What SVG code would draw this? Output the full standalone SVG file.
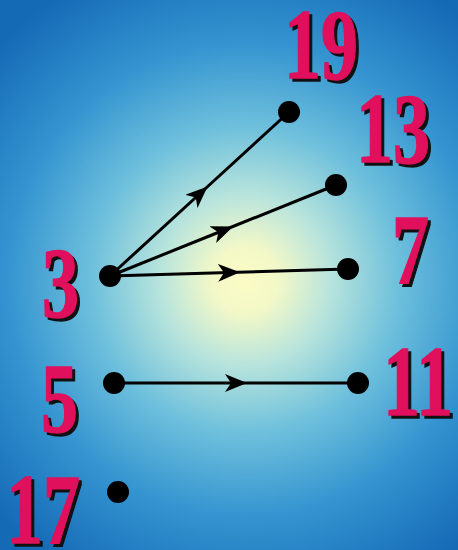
<svg xmlns="http://www.w3.org/2000/svg" width="458" height="550" viewBox="0 0 458 550">
<defs>
<radialGradient id="bg" gradientUnits="userSpaceOnUse" cx="245" cy="280" r="340">
<stop offset="0" stop-color="#fcfcc4"/>
<stop offset="0.1" stop-color="#f2f8c8"/>
<stop offset="0.25" stop-color="#b8e4dc"/>
<stop offset="0.45" stop-color="#6ec0dc"/>
<stop offset="0.7" stop-color="#3494d0"/>
<stop offset="1" stop-color="#156ab6"/>
</radialGradient>
<marker id="ah" viewBox="0 0 22 18" refX="11" refY="9" markerWidth="22" markerHeight="18" markerUnits="userSpaceOnUse" orient="auto">
<path d="M0,0 L22,9 L0,18 L6,9 Z" fill="#000"/>
</marker>
<style>
.lb{font-family:"Liberation Serif","Times New Roman",serif;font-weight:bold;font-size:100px;fill:#e0105c;stroke:#e0105c;stroke-width:1.5}
.sh{font-family:"Liberation Serif","Times New Roman",serif;font-weight:bold;font-size:100px;fill:#111;stroke:#111;stroke-width:1.5}
.dot{fill:#000}
.e{stroke:#000;stroke-width:3;fill:none;marker-mid:url(#ah)}
</style>
</defs>
<rect width="458" height="550" fill="url(#bg)"/>
<g id="connectors">
<path class="e" d="M110,276 L199.5,194 L289,112"/>
<path class="e" d="M110,276 L223,230.5 L336,185"/>
<path class="e" d="M110,276 L229,272.5 L348,269"/>
<path class="e" d="M114,383 L236,383 L358,383"/>
</g>
<g id="n19">
<text class="sh" transform="translate(287,81) scale(0.74,1)">19</text>
<text class="lb" transform="translate(284,78) scale(0.74,1)">19</text>
<circle class="dot" cx="289" cy="112" r="11"/>
</g>
<g id="n13">
<text class="sh" transform="translate(359,165) scale(0.74,1)">13</text>
<text class="lb" transform="translate(356,162) scale(0.74,1)">13</text>
<circle class="dot" cx="336" cy="185" r="11"/>
</g>
<g id="n7">
<text class="sh" transform="translate(395,286) scale(0.74,1)">7</text>
<text class="lb" transform="translate(392,283) scale(0.74,1)">7</text>
<circle class="dot" cx="348" cy="269" r="11"/>
</g>
<g id="n3">
<text class="sh" transform="translate(45,319) scale(0.74,1)">3</text>
<text class="lb" transform="translate(42,316) scale(0.74,1)">3</text>
<circle class="dot" cx="110" cy="276" r="11"/>
</g>
<g id="n5">
<text class="sh" transform="translate(44,435) scale(0.74,1)">5</text>
<text class="lb" transform="translate(41,432) scale(0.74,1)">5</text>
<circle class="dot" cx="114" cy="383" r="11"/>
</g>
<g id="n11">
<text class="sh" transform="translate(386,418) scale(0.74,1)">11</text>
<text class="lb" transform="translate(383,415) scale(0.74,1)">11</text>
<circle class="dot" cx="358" cy="383" r="11"/>
</g>
<g id="n17">
<text class="sh" transform="translate(9,546) scale(0.74,1)">17</text>
<text class="lb" transform="translate(6,543) scale(0.74,1)">17</text>
<circle class="dot" cx="118" cy="492" r="11"/>
</g>
</svg>
